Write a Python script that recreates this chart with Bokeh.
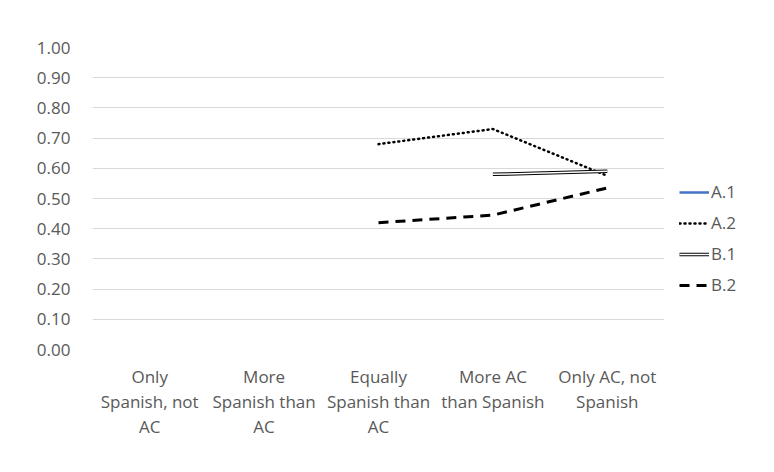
from bokeh.plotting import figure
from bokeh.models import FactorRange, Range1d, Legend, LegendItem, SingleIntervalTicker, NumeralTickFormatter
from bokeh.embed import file_html
from bokeh.resources import INLINE
import numpy as np

categories = ["Only\nSpanish, not\nAC", "More\nSpanish than\nAC", "Equally\nSpanish than\nAC",
              "More AC\nthan Spanish", "Only AC, not\nSpanish"]
a1 = [np.nan, np.nan, np.nan, np.nan, np.nan]
a2 = [np.nan, np.nan, 0.68, 0.73, 0.575]
b1 = [np.nan, np.nan, np.nan, 0.58, 0.59]
b2 = [np.nan, np.nan, 0.42, 0.445, 0.535]

FONT = "Open Sans"
FS = "17px"
p = figure(frame_width=572, frame_height=302, x_range=FactorRange(*categories), y_range=Range1d(0, 1.0),
           output_backend="svg", toolbar_location=None,
           min_border_left=92, min_border_right=100, min_border_top=47, min_border_bottom=112)
p.outline_line_color = None
p.background_fill_color = "white"
p.border_fill_color = "white"
p.x_range.range_padding = 0

for ax in (p.xaxis[0], p.yaxis[0]):
    ax.axis_line_color = None
    ax.major_tick_line_color = None
    ax.minor_tick_line_color = None
    ax.major_tick_out = 0
    ax.major_tick_in = 0
    ax.major_label_text_font = FONT
    ax.major_label_text_font_size = FS
    ax.major_label_text_color = "#595959"

p.yaxis.ticker = SingleIntervalTicker(interval=0.1)
p.yaxis.formatter = NumeralTickFormatter(format="0.00")
p.yaxis.major_label_standoff = 18
p.xaxis.major_label_standoff = 15
p.xaxis.major_label_text_line_height = 1.1
p.xgrid.grid_line_color = None
p.ygrid.grid_line_color = "#d9d9d9"
p.ygrid.grid_line_width = 1

r_a1 = p.line(categories, a1, line_color="#4472c4", line_width=2.5)
r_a2 = p.line(categories, a2, line_color="black", line_width=2.5, line_dash="1 4", line_cap="round")
r_b1o = p.line(categories, b1, line_color="black", line_width=3.5)
r_b1i = p.line(categories, b1, line_color="white", line_width=1.5)
r_b2 = p.line(categories, b2, line_color="black", line_width=3, line_dash="10 7")

legend = Legend(items=[LegendItem(label="A.1", renderers=[r_a1]),
                       LegendItem(label="A.2", renderers=[r_a2]),
                       LegendItem(label="B.1", renderers=[r_b1o, r_b1i]),
                       LegendItem(label="B.2", renderers=[r_b2])],
                location=(15, 53), orientation="vertical",
                padding=0, margin=0, spacing=8, glyph_width=30, glyph_height=20,
                label_height=20, label_standoff=2, border_line_color=None,
                background_fill_alpha=0, label_text_font=FONT, label_text_font_size=FS,
                label_text_color="#595959")
p.add_layout(legend, "right")

open("out.html", "w").write(file_html(p, INLINE))
